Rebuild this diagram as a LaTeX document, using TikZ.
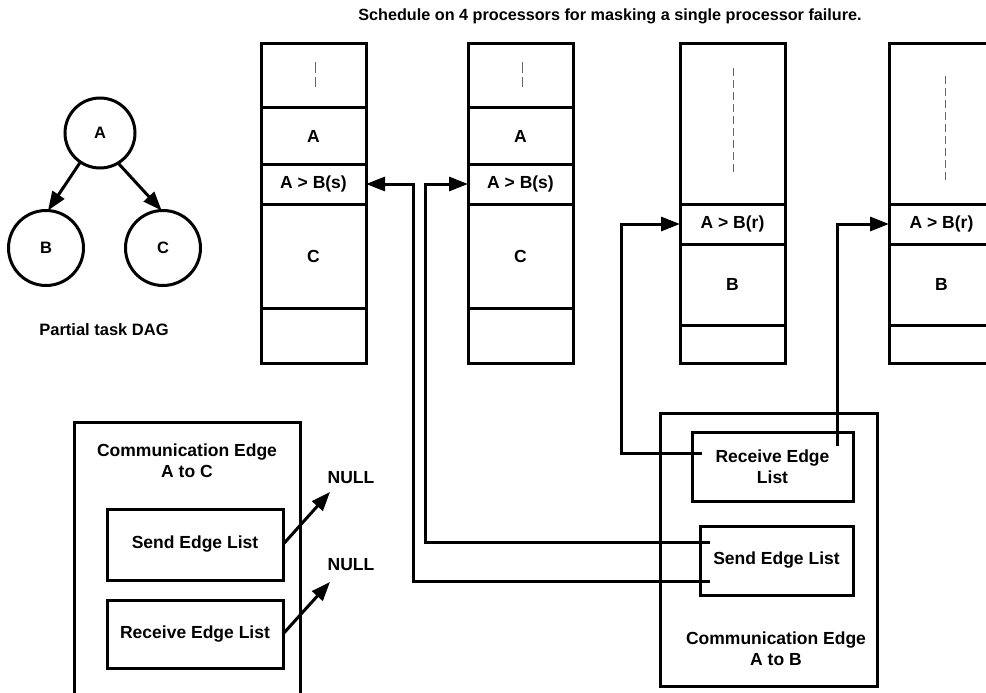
\documentclass[tikz,border=0pt]{standalone}
\usepackage{fontspec}
\setmainfont{Liberation Sans}
\usetikzlibrary{arrows.meta}
\newcommand\lblfont{\fontsize{17.5}{21}\selectfont\bfseries}
\newcommand\ttlfont{\fontsize{16.2}{19}\selectfont\bfseries}
\newcommand\dagfont{\fontsize{16.5}{19}\selectfont\bfseries}
\newcommand\dagcapfont{\fontsize{16.5}{19}\selectfont\bfseries}
\begin{document}
\begin{tikzpicture}[x=1pt,y=-1pt,
 cell/.style={draw, line width=3pt, rectangle, anchor=north west, outer sep=0pt, inner sep=0pt, minimum width=105pt, font=\lblfont},
 box/.style={draw, line width=3pt, rectangle, anchor=north west, outer sep=0pt, inner sep=0pt, font=\lblfont, align=center},
 txt/.style={font=\lblfont, align=center, inner sep=0pt},
 circ/.style={draw, circle, line width=3pt, inner sep=0pt, outer sep=0pt},
 conn/.style={line width=3pt, -{Triangle[length=19pt,width=14pt]}},
 dashA/.style={draw=black!60, line width=1.3pt, dash pattern=on 11pt off 4pt},
 dashB/.style={draw=black!60, line width=1.3pt, dash pattern=on 8pt off 4pt},
]
\clip (0,0) rectangle (986,693);

% title
\node[font=\ttlfont, inner sep=0pt] (title) at (610,16) {Schedule on 4 processors for masking a single processor failure.};

% DAG
\node[circ, minimum size=70pt] (A) at (100,133) {\dagfont A};
\node[circ, minimum size=75pt] (B) at (46,248) {\dagfont B};
\node[circ, minimum size=75pt] (C) at (163,248) {\dagfont C};
\draw[conn] (A.236) -- (B.87);
\draw[conn] (A.301) -- (C.92);
\node[inner sep=0pt, font=\dagcapfont] (dagl) at (104,330) {Partial task DAG};

% processor 1
\node[cell, minimum height=64pt] (p1top) at (261,44) {};
\node[cell, minimum height=56pt] (p1a) at (261,108) {A};
\node[cell, minimum height=40pt] (p1s) at (261,164) {A > B(s)};
\node[cell, minimum height=104pt] (p1c) at (261,204) {C};
\node[cell, minimum height=55pt] (p1bot) at (261,308) {};
\draw[dashA] ([shift={(2,18)}]p1top.north) -- ([shift={(2,43)}]p1top.north);

% processor 2
\node[cell, minimum height=64pt] (p2top) at (468,44) {};
\node[cell, minimum height=56pt] (p2a) at (468,108) {A};
\node[cell, minimum height=40pt] (p2s) at (468,164) {A > B(s)};
\node[cell, minimum height=104pt] (p2c) at (468,204) {C};
\node[cell, minimum height=55pt] (p2bot) at (468,308) {};
\draw[dashA] ([shift={(2,18)}]p2top.north) -- ([shift={(2,43)}]p2top.north);

% processor 3
\node[cell, minimum height=160pt] (p3top) at (680,44) {};
\node[cell, minimum height=40pt] (p3r) at (680,204) {A > B(r)};
\node[cell, minimum height=81pt] (p3b) at (680,244) {B};
\node[cell, minimum height=38pt] (p3bot) at (680,325) {};
\draw[dashB] ([shift={(1,24)}]p3top.north) -- ([shift={(1,129)}]p3top.north);

% processor 4
\node[cell, minimum height=160pt] (p4top) at (889,44) {};
\node[cell, minimum height=40pt] (p4r) at (889,204) {A > B(r)};
\node[cell, minimum height=81pt] (p4b) at (889,244) {B};
\node[cell, minimum height=38pt] (p4bot) at (889,325) {};
\draw[dashB] ([shift={(4,32)}]p4top.north) -- ([shift={(4,136)}]p4top.north);

% communication edge A to C
\node[box, minimum width=226pt, minimum height=290pt] (cAC) at (74,422) {};
\node[txt] (cACl) at (187,461) {Communication Edge\\A to C};
\node[box, minimum width=176pt, minimum height=71pt] (sAC) at (107,509) {Send Edge List};
\node[box, minimum width=176pt, minimum height=68pt] (rAC) at (107,600) {Receive Edge List};
\node[txt] (null1) at (351,478) {NULL};
\node[txt] (null2) at (351,565) {NULL};
\draw[conn] (sAC.east) -- ([shift={(-21,14)}]null1.center);
\draw[conn] (rAC.east) -- ([shift={(-21,17)}]null2.center);

% communication edge A to B
\node[box, minimum width=217pt, minimum height=273pt] (cAB) at (660,413) {};
\node[box, minimum width=161pt, minimum height=69pt] (rAB) at (692,432) {Receive Edge\\List};
\node[box, minimum width=153pt, minimum height=69pt] (sAB) at (700,526) {Send Edge List};
\node[txt] (cABl) at (776,649) {Communication Edge\\A to B};

% connectors
\draw[conn] ([shift={(10,21)}]sAB.west) -| ([xshift=47]p1s.east) -- (p1s.east);
\draw[conn] ([shift={(10,-18)}]sAB.west) -| ([xshift=-43]p2s.west) -- (p2s.west);
\draw[conn] ([shift={(10,-13)}]rAB.west) -| ([xshift=-59]p3r.west) -- (p3r.west);
\draw[conn] ([shift={(-16,-21)}]rAB.east) |- (p4r.west);
\end{tikzpicture}
\end{document}
